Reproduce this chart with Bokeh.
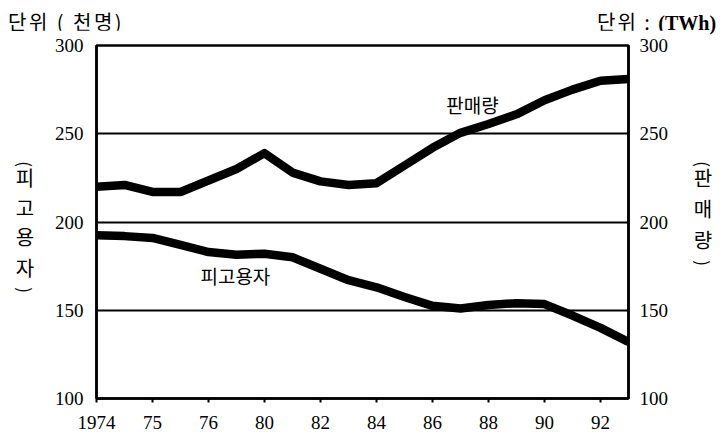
from bokeh.plotting import figure
from bokeh.models import Range1d, LinearAxis, FixedTicker, Label, Div
from bokeh.layouts import column, row
from bokeh.embed import file_html
from bokeh.resources import INLINE

years = list(range(1974, 1994))
sales = [220, 221, 217, 217, 223.5, 230, 239, 228, 223, 221,
         222, 232, 242, 250.5, 255.5, 261, 269, 275, 280, 281]
employees = [192.5, 192, 191, 187, 183, 181.5, 182, 180, 173.5, 167,
             163, 157.5, 152.5, 151, 153, 154, 153.5, 147, 140, 132]
y_ticks = [100, 150, 200, 250, 300]
x_ticks = [1974, 1976, 1978, 1980, 1982, 1984, 1986, 1988, 1990, 1992]
x_tick_labels = ["1974", "75", "76", "80", "82", "84", "86", "88", "90", "92"]
left_unit = "단위 ( 천명)"
right_unit_k = "단위 : "
right_unit_e = "(TWh)"
left_name = "피고용자"
right_name = "판매량"

KFONT = "Noto Sans CJK KR"
NFONT = "Liberation Serif"
W = 727
TOP_H = 30
MAIN_H = 407
SIDE_L = 40
SIDE_R = 40

# --- unit titles above the chart ---
head = Div(
    text=(
        f'<div style="position:relative;width:{W}px;height:{TOP_H}px;color:black;'
        f"font-family:'{KFONT}';font-size:20px;line-height:24px;\">"
        f'<span style="position:absolute;left:8px;top:10px;white-space:pre;letter-spacing:2.5px;">{left_unit}</span>'
        f'<span style="position:absolute;left:597px;top:10px;white-space:pre;">'
        f'<span style="letter-spacing:2px;">{right_unit_k}</span>'
        f"<span style=\"font-family:'{NFONT}';font-weight:bold;\">{right_unit_e}</span></span>"
        "</div>"
    ),
    width=W, height=TOP_H, margin=(0, 0, 0, 0),
)

def stack_div(width, cx, name, char_ys, paren_ys):
    parts = [f'<div style="position:relative;width:{width}px;height:{MAIN_H}px;color:black;'
             f"font-family:'{KFONT}';\">"]
    for ch, cy in zip(name, char_ys):
        parts.append(f'<span style="position:absolute;left:{cx - 12}px;top:{cy - TOP_H - 12}px;'
                     f'width:24px;height:24px;line-height:24px;font-size:20px;text-align:center;">{ch}</span>')
    for ch, cy in zip("()", paren_ys):
        parts.append(f'<span style="position:absolute;left:{cx - 9}px;top:{cy - TOP_H - 9}px;'
                     f'width:18px;height:18px;line-height:18px;font-size:17px;text-align:center;'
                     f'transform:rotate(90deg);transform-origin:50% 50%;">{ch}</span>')
    parts.append("</div>")
    return Div(text="".join(parts), width=width, height=MAIN_H, margin=(0, 0, 0, 0))

left_div = stack_div(SIDE_L, 25, left_name, [178, 208, 237, 268], [164, 290])
right_div = stack_div(SIDE_R, 703 - (W - SIDE_R), right_name, [178, 209, 240], [164, 263])

# --- main chart ---
p = figure(width=W - SIDE_L - SIDE_R, height=MAIN_H, x_range=Range1d(1974, 1993),
           y_range=Range1d(100, 300), output_backend="svg", toolbar_location=None,
           min_border_left=96 - SIDE_L, min_border_right=(W - SIDE_R) - 628,
           min_border_top=15, min_border_bottom=39)
p.outline_line_color = "black"
p.outline_line_width = 2.5
p.background_fill_color = "white"
p.border_fill_color = "white"

p.xgrid.visible = False
p.ygrid.ticker = FixedTicker(ticks=y_ticks)
p.ygrid.grid_line_color = "black"
p.ygrid.grid_line_width = 2

def style_y(ax):
    ax.ticker = FixedTicker(ticks=y_ticks)
    ax.axis_line_color = "black"
    ax.axis_line_width = 2.5
    ax.major_tick_out = 0
    ax.major_tick_in = 0
    ax.minor_tick_out = 0
    ax.minor_tick_in = 0
    ax.major_label_text_font = NFONT
    ax.major_label_text_font_size = "19px"
    ax.major_label_text_color = "black"

style_y(p.yaxis[0])
p.yaxis[0].major_label_standoff = 13
right = LinearAxis()
style_y(right)
right.major_label_standoff = 11
p.add_layout(right, "right")

xa = p.xaxis[0]
xa.ticker = FixedTicker(ticks=x_ticks)
xa.major_label_overrides = {t: l for t, l in zip(x_ticks, x_tick_labels)}
xa.axis_line_color = "black"
xa.axis_line_width = 2.5
xa.major_tick_out = 4
xa.major_tick_in = 0
xa.major_tick_line_width = 2
xa.minor_tick_out = 0
xa.minor_tick_in = 0
xa.major_label_text_font = NFONT
xa.major_label_text_font_size = "19px"
xa.major_label_text_color = "black"
xa.major_label_standoff = 13

p.line(years, sales, line_width=8.5, line_color="black", line_join="round")
p.line(years, employees, line_width=8.5, line_color="black", line_join="round")

for x, y, txt in [(1987.43, 266.6, right_name), (1978.96, 169.7, left_name)]:
    p.add_layout(Label(x=x, y=y, text=txt, text_font=KFONT, text_font_size="19px",
                       text_align="center", text_baseline="middle", text_color="black"))

layout = column(head, row(left_div, p, right_div, spacing=0), spacing=0)
open("out.html", "w").write(file_html(layout, INLINE))
